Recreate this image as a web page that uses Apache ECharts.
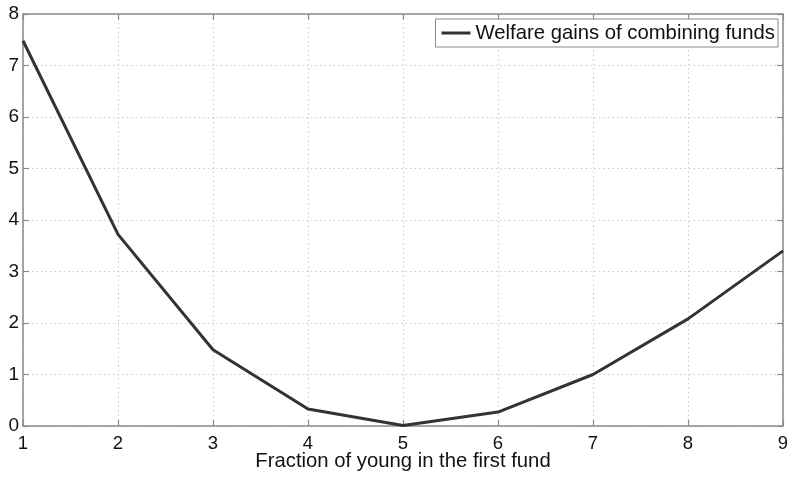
<!DOCTYPE html>
<html><head><meta charset="utf-8">
<script src="https://cdn.jsdelivr.net/npm/echarts@6/dist/echarts.min.js"></script>
<style>html,body{margin:0;padding:0;background:#fff}#c{width:796px;height:477px}</style>
</head><body><div id="c"></div>
<script>
const xValues = [1, 2, 3, 4, 5, 6, 7, 8, 9];
const welfareGains = [7.48, 3.72, 1.48, 0.33, 0.01, 0.27, 1.0, 2.08, 3.40];
const seriesName = 'Welfare gains of combining funds';
const xLabel = 'Fraction of young in the first fund';

const chart = echarts.init(document.getElementById('c'), null, {renderer: 'canvas'});
const font = 'Liberation Sans';
const axisCommon = {
  axisLine: {show: true, onZero: false, lineStyle: {color: '#8a8a8a', width: 1.5}},
  axisTick: {show: true, inside: true, length: 6, lineStyle: {color: '#8a8a8a', width: 1.2}},
};
chart.setOption({
  animation: false,
  grid: {left: 23, right: 13, top: 14, bottom: 51, containLabel: false, outerBoundsMode: 'none'},
  legend: {
    show: true, right: 18, top: 19, orient: 'horizontal',
    backgroundColor: '#fff', borderColor: '#8a8a8a', borderWidth: 1,
    padding: [4, 3, 4, 6], itemWidth: 29, itemHeight: 3, itemGap: 4,
    icon: 'rect',
    textStyle: {fontFamily: font, fontSize: 20.3, color: '#111', padding: [0,0,0,0]},
    data: [{name: seriesName, icon: 'rect'}]
  },
  xAxis: [{
    type: 'value', min: 1, max: 9, interval: 1, position: 'bottom',
    name: xLabel, nameLocation: 'middle', nameGap: 25, nameMoveOverlap: false,
    nameTextStyle: {fontFamily: font, fontSize: 20.3, color: '#111'},
    ...axisCommon,
    axisLabel: {fontFamily: font, fontSize: 18.5, color: '#111', margin: 8},
    splitLine: {show: true, lineStyle: {color: '#c8c8c8', type: [1.5, 3], width: 1}}
  }, {
    type: 'value', min: 1, max: 9, interval: 1, position: 'top',
    ...axisCommon, axisLabel: {show: false}, splitLine: {show: false}
  }],
  yAxis: [{
    type: 'value', min: 0, max: 8, interval: 1, position: 'left',
    ...axisCommon,
    axisLabel: {fontFamily: font, fontSize: 19, color: '#111', margin: 4},
    splitLine: {show: true, lineStyle: {color: '#c8c8c8', type: [1.5, 3], width: 1}}
  }, {
    type: 'value', min: 0, max: 8, interval: 1, position: 'right',
    ...axisCommon, axisLabel: {show: false}, splitLine: {show: false}
  }],
  series: [{
    name: seriesName, type: 'line', xAxisIndex: 0, yAxisIndex: 0,
    data: xValues.map((x, i) => [x, welfareGains[i]]),
    showSymbol: false, symbol: 'none',
    lineStyle: {color: '#333', width: 3}, itemStyle: {color: '#333'}
  }]
});
</script></body></html>
